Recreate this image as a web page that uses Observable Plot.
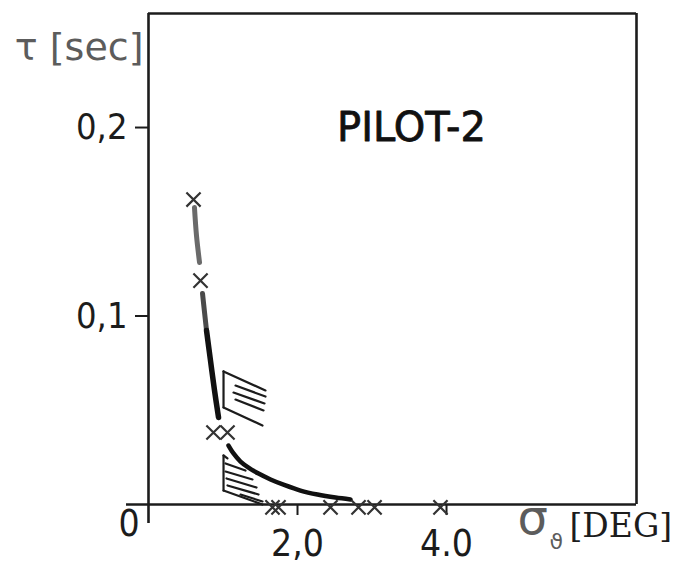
<!DOCTYPE html>
<html>
<head>
<meta charset="utf-8">
<script src="https://cdn.jsdelivr.net/npm/d3@7"></script>
<script src="https://cdn.jsdelivr.net/npm/@observablehq/plot@0.6"></script>
<style>
  html, body { margin: 0; padding: 0; background: #fff; }
  #chart svg { display: block; overflow: visible; }
</style>
</head>
<body>
<div id="chart"></div>
<script>
// ---- data ----
const xTicks = [2, 4];
const xTickLabels = ["2,0", "4.0"];
const yTicks = [0.1, 0.2];
const yTickLabels = ["0,1", "0,2"];

// curve segments [σϑ, τ]
const curveA = [[0.617, 0.1576], [0.644, 0.1427], [0.685, 0.1284]];
const curveB1 = [[0.725, 0.1119], [0.752, 0.1020], [0.779, 0.0923]];
const curveB2 = [[0.779, 0.0923], [0.832, 0.0764], [0.886, 0.0605], [0.940, 0.0462]];
const curveC = [[1.074, 0.0313], [1.141, 0.0271], [1.235, 0.0228], [1.342, 0.0196], [1.477, 0.0164], [1.638, 0.0133], [1.839, 0.0101], [2.040, 0.0074], [2.268, 0.0053], [2.510, 0.0037], [2.711, 0.0027]];

// measured points (× markers)
const crossX = [0.604, 0.698, 0.872, 1.060, 1.664, 1.745, 2.443, 2.819, 3.034, 3.919];
const crossY = [0.1618, 0.1188, 0.0382, 0.0382, -0.0015, -0.0015, -0.0015, -0.0015, -0.0015, -0.0015];

// hatched areas: [x1, y1, x2, y2]
const hatchUpper = [
  [1.007, 0.0706, 1.007, 0.0515],
  [1.007, 0.0706, 1.570, 0.0605],
  [1.168, 0.0631, 1.570, 0.0573],
  [1.141, 0.0594, 1.557, 0.0536],
  [1.168, 0.0557, 1.544, 0.0499],
  [1.007, 0.0515, 1.530, 0.0419]
];
const hatchLower = [
  [1.007, 0.0260, 1.007, 0.0074],
  [1.007, 0.0260, 1.060, 0.0245],
  [1.034, 0.0218, 1.302, 0.0180],
  [1.034, 0.0175, 1.396, 0.0133],
  [1.047, 0.0138, 1.450, 0.0090],
  [1.060, 0.0101, 1.477, 0.0053],
  [1.235, 0.0053, 1.530, 0.0016],
  [1.007, 0.0074, 1.530, 0.0000]
];

const xDomain = [0, 6.55];
const yDomain = [0, 0.2605];
const xAxisStart = -0.295;
const yAxisStart = -0.0101;

const ink = "#1c1c1c";
const grey = "#5c5c5c";
const sans = "'DejaVu Sans Condensed', 'DejaVu Sans', sans-serif";

const crosses = crossX.map((x, i) => ({x, y: crossY[i]}));
const lineOpts = (stroke, w) => ({x: d => d[0], y: d => d[1], curve: "catmull-rom", stroke, strokeWidth: w, strokeLinecap: "round"});
const linkOpts = {x1: d => d[0], y1: d => d[1], x2: d => d[2], y2: d => d[3], stroke: ink, strokeWidth: 2.2, strokeLinecap: "round"};

const chart = Plot.plot({
  width: 678,
  height: 573,
  marginLeft: 148,
  marginRight: 42,
  marginTop: 13,
  marginBottom: 69,
  style: {fontFamily: sans, fontSize: "36px", color: ink, background: "#fff"},
  x: {domain: xDomain, axis: null},
  y: {domain: yDomain, axis: null},
  marks: [
    // axes and box
    Plot.ruleY([0], {x1: xAxisStart, x2: xDomain[1], stroke: ink, strokeWidth: 2.6}),
    Plot.ruleX([0], {y1: yAxisStart, y2: yDomain[1], stroke: ink, strokeWidth: 2.6}),
    Plot.ruleY([yDomain[1]], {x1: 0, x2: xDomain[1], stroke: ink, strokeWidth: 2.6}),
    Plot.ruleX([xDomain[1]], {y1: 0, y2: yDomain[1], stroke: ink, strokeWidth: 2.6}),
    Plot.axisX({ticks: xTicks, tickFormat: d => xTickLabels[xTicks.indexOf(d)], tickSize: 11, tickPadding: 14, strokeWidth: 2, fontSize: 37, label: null, fill: ink}),
    Plot.axisY({ticks: yTicks, tickFormat: d => yTickLabels[yTicks.indexOf(d)], tickSize: 13, tickPadding: 8, strokeWidth: 2, fontSize: 36, label: null, fill: ink}),
    // hatched areas
    Plot.link(hatchUpper, linkOpts),
    Plot.link(hatchLower, linkOpts),
    // curves
    Plot.line(curveA, lineOpts("#6a6a6a", 5)),
    Plot.line(curveB1, lineOpts("#4a4a4a", 5)),
    Plot.line(curveB2, lineOpts("#111", 5.5)),
    Plot.line(curveC, lineOpts("#111", 4.5)),
    // markers
    Plot.dot(crosses, {x: "x", y: "y", symbol: "times", r: 6.5, stroke: "#333", strokeWidth: 2.2}),
    // texts
    Plot.text(["PILOT-2"], {text: d => d, frameAnchor: "top", dx: 19, dy: 99, fontSize: 40, fontFamily: "'DejaVu Sans', sans-serif", fill: "#111", stroke: "#111", strokeWidth: 0.8}),
    Plot.text(["τ [sec]"], {text: d => d, frameAnchor: "top-left", textAnchor: "end", dx: -5, dy: 20, fontSize: 38, fontFamily: "'DejaVu Sans', sans-serif", fill: grey}),
    Plot.text(["0"], {text: d => d, frameAnchor: "bottom-left", dx: -30, dy: 31, fontSize: 37, fill: ink}),
    Plot.text(["σ"], {text: d => d, frameAnchor: "bottom-right", textAnchor: "start", dx: -119, dy: 29, fontSize: 48, fontFamily: "'DejaVu Sans', sans-serif", fill: grey}),
    Plot.text(["ϑ"], {text: d => d, frameAnchor: "bottom-right", textAnchor: "start", dx: -87, dy: 44, fontSize: 22, fontFamily: "'DejaVu Sans', sans-serif", fill: grey}),
    Plot.text(["[DEG]"], {text: d => d, frameAnchor: "bottom-right", textAnchor: "start", dx: -67, dy: 32, fontSize: 33, fontFamily: "'DejaVu Serif', serif", fill: ink})
  ]
});
document.getElementById("chart").appendChild(chart);
</script>
</body>
</html>
